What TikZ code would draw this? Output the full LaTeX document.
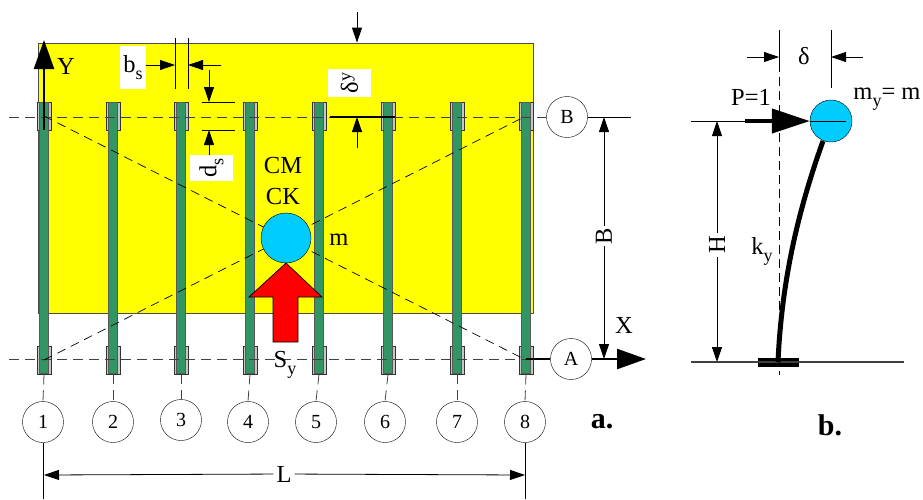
\documentclass[tikz,border=0pt]{standalone}
\usepackage{fontspec}
\setmainfont{Liberation Serif}
\usetikzlibrary{positioning}
\usetikzlibrary{arrows.meta}
\definecolor{colgreen}{RGB}{50,150,100}
\definecolor{massblue}{RGB}{0,204,255}
\definecolor{platey}{RGB}{255,255,0}
\definecolor{forcered}{RGB}{255,0,0}
\newcommand{\lowsub}[1]{\raisebox{-7pt}{\fontsize{18}{18}\selectfont #1}}
\tikzset{
    lbl/.style={inner sep=0pt, font=\fontsize{24.5}{28}\selectfont},
    whitebox/.style={lbl, fill=white},
    col/.style={draw=black!65, line width=1pt, fill=colgreen, minimum width=8.5pt, minimum height=271pt, inner sep=0pt},
    clip box/.style={draw=black!80, line width=0.8pt, fill=black!22, minimum width=14pt, minimum height=28pt, inner sep=0pt},
    bubble/.style={draw, circle, fill=white, minimum size=41pt, inner sep=0pt, font=\fontsize{20}{24}\selectfont},
    mass/.style={draw, circle, fill=massblue, inner sep=0pt},
    axisline/.style={black!75, line width=0.8pt, dash pattern=on 10pt off 6pt},
    diag/.style={black, line width=0.7pt, dash pattern=on 9pt off 6pt},
    dim/.style={line width=0.8pt, -{Triangle[length=15pt,width=10pt]}},
    tick/.style={line width=0.9pt}
}
\begin{document}
\begin{tikzpicture}[x=1pt, y=-1pt]
        \useasboundingbox (0,0) rectangle (923,499);

        % plate
        \node[draw=black!70, line width=0.8pt, fill=platey, minimum width=495pt, minimum height=270pt, inner sep=0pt] (plate) at (285.5,178) {};

        % clips at line B and line A
        \node[clip box] (t1) at (44,116) {};
        \node[clip box] (t2) at (113,116) {};
        \node[clip box] (t3) at (181,116) {};
        \node[clip box] (t4) at (250,116) {};
        \node[clip box] (t5) at (319,116) {};
        \node[clip box] (t6) at (388,116) {};
        \node[clip box] (t7) at (457,116) {};
        \node[clip box] (t8) at (526,116) {};
        \node[clip box] (d1) at (44,360) {};
        \node[clip box] (d2) at (113,360) {};
        \node[clip box] (d3) at (181,360) {};
        \node[clip box] (d4) at (250,360) {};
        \node[clip box] (d5) at (319,360) {};
        \node[clip box] (d6) at (388,360) {};
        \node[clip box] (d7) at (457,360) {};
        \node[clip box] (d8) at (526,360) {};

        % columns
        \node[col] (c1) at (44,237.5) {};
        \node[col] (c2) at (113,237.5) {};
        \node[col] (c3) at (181,237.5) {};
        \node[col] (c4) at (250,237.5) {};
        \node[col] (c5) at (319,237.5) {};
        \node[col] (c6) at (388,237.5) {};
        \node[col] (c7) at (457,237.5) {};
        \node[col] (c8) at (526,237.5) {};

        % axis circles
        \node[bubble] (n1) at (43,422) {1};
        \node[bubble] (n2) at (113,422) {2};
        \node[bubble] (n3) at (181,420) {3};
        \node[bubble] (n4) at (248,422) {4};
        \node[bubble] (n5) at (316,422) {5};
        \node[bubble] (n6) at (385,422) {6};
        \node[bubble] (n7) at (457,422) {7};
        \node[bubble] (n8) at (525,422) {8};
        \node[bubble] (nB) at (567,117) {B};
        \node[bubble] (nA) at (571,359) {A};

        \coordinate (bleft) at (9,117);
        \coordinate (aleft) at (9,359);
        \coordinate (bright) at (631,117);
        \draw[axisline] (bleft) -- (nB.west);
        \draw[axisline] (aleft) -- (526,359);
        \draw[black, line width=0.9pt] (nB.east) -- (bright);
        \draw[axisline] (d1.south) -- (n1.north);
        \draw[axisline] (d2.south) -- (n2.north);
        \draw[axisline] (d3.south) -- (n3.north);
        \draw[axisline] (d4.south) -- (n4.north);
        \draw[axisline] (d5.south) -- (n5.north);
        \draw[axisline] (d6.south) -- (n6.north);
        \draw[axisline] (d7.south) -- (n7.north);
        \draw[axisline] (d8.south) -- (n8.north);

        \draw[diag] (t1.center) -- (d8.center);
        \draw[diag] (d1.center) -- (t8.center);

        % mass and force
        \node[mass, minimum size=50pt] (cm) at (286,238) {};
        \draw[black, line width=0.7pt, fill=forcered] (286,263) -- (322,297) -- (298,297) -- (298,342) -- (273,342) -- (273,297) -- (249,297) -- cycle;
        \node[lbl] (cmtext) at (283,166) {CM};
        \node[lbl] (cktext) at (283,197) {CK};
        \node[lbl] (mtext) at (339,240) {m};
        \node[lbl] (sytext) at (285,365) {S\lowsub{y}};

        % global axes
        \coordinate (ybase) at (44,130);
        \coordinate (ytip) at (44,40);
        \coordinate (xtip) at (646,359);
        \draw[line width=2.5pt, -{Triangle[length=29pt,width=20pt]}] (ybase) -- (ytip);
        \node[lbl] (ytext) at (66,66) {Y};
        \draw[line width=2.5pt] (526,359) -- (nA.west);
        \draw[line width=2.5pt, -{Triangle[length=29pt,width=20pt]}] (nA.east) -- (xtip);
        \node[lbl] (xtext) at (624,325) {X};

        % B dimension
        \node[lbl, fill=white, rotate=90, inner xsep=2pt, inner ysep=0pt] (btext) at (604,236) {B};
        \coordinate (bup) at (604,117);
        \coordinate (bdown) at (604,359);
        \draw[dim] (btext) -- (bup);
        \draw[dim] (btext) -- (bdown);

        % L dimension
        \node[lbl, fill=white, inner xsep=3pt] (ltext) at (284,474) {L};
        \coordinate (lleft) at (44,475);
        \coordinate (lright) at (525,475);
        \coordinate (lend1) at (43,499);
        \coordinate (lend8) at (525,499);
        \draw[tick] (n1.south) -- (lend1);
        \draw[tick] (n8.south) -- (lend8);
        \draw[dim] (ltext) -- (lleft);
        \draw[dim] (ltext) -- (lright);

        % b_s
        \node[whitebox, minimum width=26pt, minimum height=43pt] (bstext) at (133,67.5) {b\lowsub{s}};
        \coordinate (bs1top) at (175,38);
        \coordinate (bs1bot) at (175,89);
        \coordinate (bs2top) at (188,38);
        \coordinate (bs2bot) at (188,89);
        \coordinate (bsright) at (221,65);
        \draw[tick] (bs1top) -- (bs1bot);
        \draw[tick] (bs2top) -- (bs2bot);
        \draw[dim] (bstext.east |- bsright) -- (bs1top |- bsright);
        \draw[dim] (bsright) -- (bs2top |- bsright);

        % d_s
        \node[whitebox, rotate=90, minimum width=26pt, minimum height=43pt] (dstext) at (211.5,168) {d\lowsub{s}};
        \coordinate (ds1a) at (202,102);
        \coordinate (ds1b) at (235,102);
        \coordinate (ds2a) at (202,130);
        \coordinate (ds2b) at (235,130);
        \coordinate (dsup) at (209,70);
        \draw[tick] (ds1a) -- (ds1b);
        \draw[tick] (ds2a) -- (ds2b);
        \draw[dim] (dsup) -- (dsup |- ds1a);
        \draw[dim] (dsup |- dstext.east) -- (dsup |- ds2a);

        % delta_y
        \node[whitebox, rotate=90, minimum width=28pt, minimum height=43pt] (dytext) at (349.5,83) {δ\raisebox{7pt}{\fontsize{18}{18}\selectfont y}};
        \coordinate (dyline1) at (330,117);
        \coordinate (dyline2) at (395,117);
        \coordinate (dylow) at (357,148);
        \coordinate (dyhigh) at (357,12);
        \draw[line width=1.5pt] (dyline1) -- (dyline2);
        \draw[dim] (dylow) -- (dylow |- dyline1);
        \draw[dim] (dyhigh) -- (dyhigh |- plate.north);

        % part b, cantilever
        \coordinate (stop) at (779,63);
        \coordinate (sbase) at (779,375);
        \coordinate (stick) at (779,30);
        \coordinate (mtick) at (831,30);
        \coordinate (gleft) at (691,362);
        \coordinate (gright) at (904,362);
        \coordinate (pleft) at (691,121);
        \coordinate (pthick) at (745,121);
        \node[draw=black, fill=black, minimum width=40pt, minimum height=8pt, inner sep=0pt] (footing) at (778,362) {};
        \draw[line width=1.2pt, black!75] (gleft) -- (gright);
        \draw[black, line width=0.7pt, dash pattern=on 9pt off 5pt] (stop) -- (sbase);
        \draw[tick] (stick) -- (stop);
        \node[mass, minimum size=42pt] (my) at (831,121) {};
        \draw[line width=5pt] (823,141) .. controls (803,197) and (782,270) .. (footing.center);
        \draw[tick] (mtick) -- (831,88);
        \draw[tick] (pleft) -- (pthick);
        \draw[line width=4pt, -{Triangle[length=38pt,width=24pt]}] (pthick) -- (my.west);
        \draw[tick] (my.west) -- (846,121);
        \node[lbl] (deltatext) at (804,56) {δ};
        \coordinate (dleft) at (747,57);
        \coordinate (dright) at (863,57);
        \draw[dim] (dleft) -- (stick |- dleft);
        \draw[dim] (dright) -- (mtick |- dright);
        \node[lbl] (ptext) at (751,97) {P=1};
        \node[lbl] (mytext) at (887,99) {m\lowsub{y}= m};
        \node[lbl, fill=white, rotate=90, inner xsep=3pt] (htext) at (717,245) {H};
        \coordinate (hup) at (717,121);
        \coordinate (hdown) at (717,362);
        \draw[dim] (htext) -- (hup);
        \draw[dim] (htext) -- (hdown);
        \node[lbl] (kytext) at (762,251) {k\lowsub{y}};

        % panel letters
        \node[lbl, font=\fontsize{30}{34}\selectfont\bfseries] (atext) at (602,422) {a.};
        \node[lbl, font=\fontsize{30}{34}\selectfont\bfseries] (btextb) at (830,425) {b.};
\end{tikzpicture}
\end{document}
